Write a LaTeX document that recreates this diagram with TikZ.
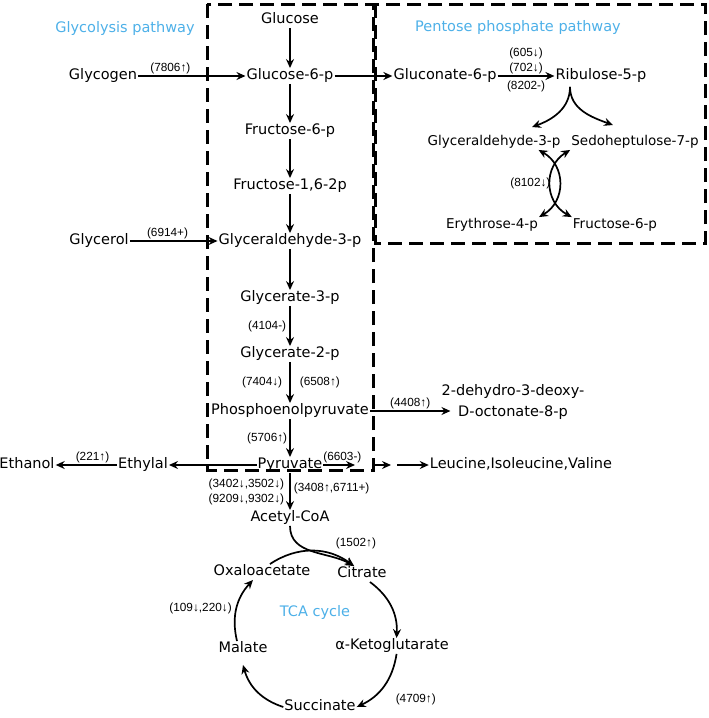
\documentclass[tikz,border=0pt]{standalone}
\usepackage{fontspec}
\setmainfont{DejaVu Sans}
\newfontfamily\numfont{Liberation Sans}
\usetikzlibrary{arrows.meta,calc}

\definecolor{pathblue}{RGB}{77,176,232}

\begin{document}
\begin{tikzpicture}[
    x=1pt, y=1pt,
    met/.style={inner sep=1pt, text height=10.5pt, text depth=3pt, font=\fontsize{14.5}{17}\selectfont},
    metsm/.style={met, font=\fontsize{13.5}{16}\selectfont},
    num/.style={inner sep=1pt, font=\numfont\fontsize{11.8}{15}\selectfont},
    title/.style={met, text=pathblue},
    flow/.style={->, line width=1.7pt},
    region/.style={line width=3pt, dash pattern=on 14pt off 7pt},
    >={Stealth[length=9pt,width=8pt,inset=3pt]}
  ]
  \useasboundingbox (0,0) rectangle (709,-718);

  % pathway boxes
  \draw[region] (207,-4) rectangle (373,-470);
  \draw[region] (375,-4) rectangle (705,-243);

  \node[title] (glyt) at (125,-29) {Glycolysis pathway};
  \node[title] (ppt)  at (518,-28) {Pentose phosphate pathway};
  \node[title] (tcat) at (315,-613) {TCA cycle};

  % glycolysis
  \node[met] (glc)   at (290,-20)  {Glucose};
  \node[met] (g6p)   at (290,-76)  {Glucose-6-p};
  \node[met] (f6p)   at (290,-131) {Fructose-6-p};
  \node[met] (fbp)   at (290,-186) {Fructose-1,6-2p};
  \node[met] (gap)   at (290,-241) {Glyceraldehyde-3-p};
  \node[met] (g3p)   at (290,-298) {Glycerate-3-p};
  \node[met] (g2p)   at (290,-354) {Glycerate-2-p};
  \node[met] (pep)   at (290,-411) {Phosphoenolpyruvate};
  \node[met] (pyr)   at (290,-465) {Pyruvate};
  \node[met] (accoa) at (290,-518) {Acetyl-CoA};

  \node[met] (glycogen) at (103,-76)  {Glycogen};
  \node[met] (glycerol) at (99,-241)  {Glycerol};
  \node[met] (ethylal)  at (143,-465) {Ethylal};
  \node[met] (ethanol)  at (27,-465)  {Ethanol};
  \node[inner sep=1pt, align=center, font=\fontsize{14.5}{21}\selectfont] (kdo) at (513,-402)
    {2-dehydro-3-deoxy-\\D-octonate-8-p};
  \node[met] (leu) at (521,-465) {Leucine,Isoleucine,Valine};

  % pentose phosphate
  \node[met]   (gn6p) at (445,-76)  {Gluconate-6-p};
  \node[met]   (ru5p) at (601,-76)  {Ribulose-5-p};
  \node[metsm] (gapb) at (494,-142) {Glyceraldehyde-3-p};
  \node[metsm] (s7p)  at (635,-142) {Sedoheptulose-7-p};
  \node[metsm] (e4p)  at (492,-225) {Erythrose-4-p};
  \node[metsm] (f6pb) at (615,-225) {Fructose-6-p};

  % TCA cycle
  \node[met] (oaa) at (262,-572) {Oxaloacetate};
  \node[met] (cit) at (362,-574) {Citrate};
  \node[met] (akg) at (392,-646) {α-Ketoglutarate};
  \node[met] (mal) at (243,-649) {Malate};
  \node[met] (suc) at (320,-707) {Succinate};

  \coordinate (lvA) at (355,-465);
  \coordinate (lvB) at (373,-465);
  \coordinate (lvC) at (391,-465);
  \coordinate (lvD) at (397,-465);

  \draw[flow] (glc) -- (g6p);
  \draw[flow] (g6p) -- (f6p);
  \draw[flow] (f6p) -- (fbp);
  \draw[flow] (fbp) -- (gap);
  \draw[flow] (gap) -- (g3p);
  \draw[flow] (g3p) -- node[num, left=2pt] {(4104-)} (g2p);
  \draw[flow] (g2p) -- node[num, left=6pt] {(7404↓)} node[num, right=8pt] {(6508↑)} (pep);
  \draw[flow] (pep) -- node[num, left=1pt] {(5706↑)} (pyr);
  \draw[flow] (pyr) -- node[num, left=4pt, align=right] {(3402↓,3502↓)\\(9209↓,9302↓)}
    node[num, right=2pt, yshift=3pt] {(3408↑,6711+)} (accoa);

  \draw[flow] (glycogen) -- node[num, above, pos=0.3] {(7806↑)} (g6p);
  \draw[flow] (glycerol) -- node[num, above, pos=0.43] {(6914+)} (gap);
  \draw[flow] (pep.east) -- node[num, above] {(4408↑)} ([xshift=10pt]kdo.west |- pep.east);
  \draw[flow] (pyr) -- (ethylal);
  \draw[flow] (ethylal) -- node[num, above, pos=0.4] {(221↑)} (ethanol);
  \draw[flow] (pyr) -- node[num, above, pos=0.6] {(6603-)} (lvA);
  \draw[flow] (lvB) -- (lvC);
  \draw[flow] (lvD) -- (leu);

  \draw[flow] (g6p) -- (gn6p);
  \draw[flow] (gn6p) -- node[num, above, align=center] {(605↓)\\(702↓)}
    node[num, below=3pt] {(8202-)} (ru5p);
  \draw[flow] ([shift={(-31,-3)}]ru5p.south) to[out=-90, in=20] ([shift={(38,7)}]gapb.north);
  \draw[flow] ([shift={(-31,-3)}]ru5p.south) to[out=-90, in=160] ([shift={(-22,9)}]s7p.north);
  \draw[flow, <->] ([xshift=-23pt]gapb.south east) to[bend left=60, looseness=1.2]
    node[num, left=7pt] {(8102↓)} (e4p.north east);
  \draw[flow, <->] (s7p.south west) to[bend right=60, looseness=1.2] (f6pb.north west);

  \draw[flow] (accoa.south) to[out=-90, in=150] (cit.135);
  \draw[flow] (oaa.45) to[bend left=35] node[num, pos=0.9, above=10pt, xshift=10pt] {(1502↑)} (cit.135);
  \draw[flow] (cit.-45) to[bend left=28] (akg.60);
  \draw[flow] (akg.-60) to[bend left=28] node[num, anchor=north west, xshift=10pt, yshift=-6pt] {(4709↑)} (suc.east);
  \draw[flow] (suc.west) to[bend left=28] ([yshift=-8pt]mal.south);
  \draw[flow] ([xshift=-6pt]mal.north) to[bend left=28] node[num, left=3pt] {(109↓,220↓)} ([xshift=-9pt]oaa.south);
\end{tikzpicture}
\end{document}
